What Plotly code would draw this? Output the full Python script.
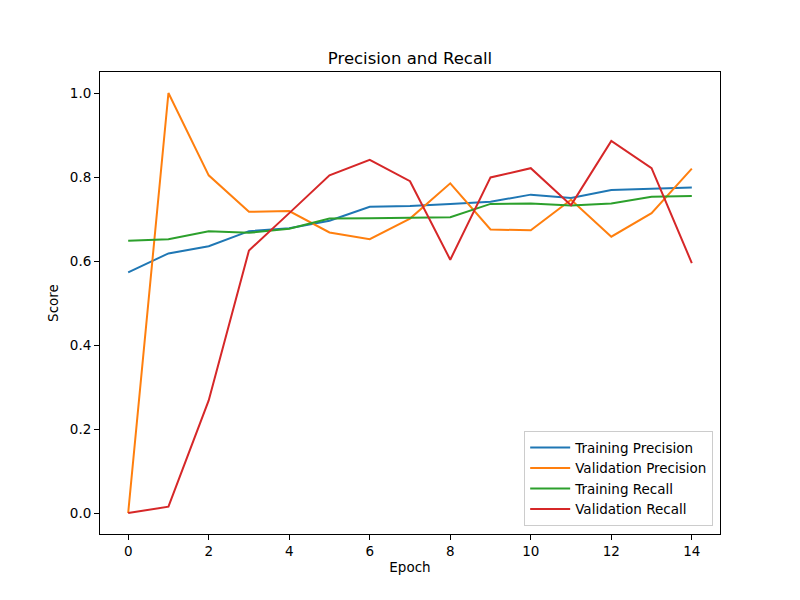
import plotly.graph_objects as go

epochs = list(range(15))
train_precision = [0.573, 0.618, 0.635, 0.671, 0.678, 0.696, 0.729, 0.731, 0.736, 0.741, 0.758, 0.750, 0.769, 0.772, 0.775]
val_precision = [0.0, 1.0, 0.804, 0.717, 0.719, 0.668, 0.652, 0.701, 0.785, 0.675, 0.673, 0.746, 0.658, 0.714, 0.820]
train_recall = [0.648, 0.652, 0.671, 0.667, 0.677, 0.701, 0.702, 0.703, 0.704, 0.736, 0.737, 0.732, 0.737, 0.753, 0.755]
val_recall = [0.0, 0.015, 0.268, 0.625, 0.714, 0.804, 0.841, 0.790, 0.603, 0.799, 0.821, 0.733, 0.886, 0.821, 0.595]

series = [
    ("Training Precision", train_precision, "#1f77b4"),
    ("Validation Precision", val_precision, "#ff7f0e"),
    ("Training Recall", train_recall, "#2ca02c"),
    ("Validation Recall", val_recall, "#d62728"),
]

fig = go.Figure()
for name, vals, color in series:
    fig.add_trace(go.Scatter(x=epochs, y=vals, mode="lines", name=name,
                             line=dict(color=color, width=2)))

axis_common = dict(showgrid=False, zeroline=False, showline=True, linecolor="black",
                   linewidth=1, mirror=True, ticks="outside", ticklen=5, tickwidth=1,
                   tickcolor="black", tickfont=dict(size=13.5, color="black"))

fig.update_layout(
    width=800, height=600,
    paper_bgcolor="white", plot_bgcolor="white",
    font=dict(family="DejaVu Sans", size=13.5, color="black"),
    margin=dict(l=92, r=88, t=64, b=74),
    title=dict(text="Precision and Recall", x=(410 - 8) / 800, xanchor="center",
               y=1 - 50 / 600, yanchor="middle", font=dict(size=16.5)),
    xaxis=dict(range=[-0.7, 14.7], tickvals=[0, 2, 4, 6, 8, 10, 12, 14],
               title=dict(text="Epoch", font=dict(size=13.5), standoff=4), **axis_common),
    yaxis=dict(range=[-0.05, 1.05], tickvals=[0, 0.2, 0.4, 0.6, 0.8, 1.0], tickformat=".1f",
               title=dict(text="Score", font=dict(size=13.5), standoff=8), **axis_common),
    legend=dict(x=0.989, y=0.017, xanchor="right", yanchor="bottom",
                bordercolor="#cccccc", borderwidth=1, bgcolor="rgba(255,255,255,0.8)",
                font=dict(size=13.5), tracegroupgap=0, itemwidth=40),
    showlegend=True,
)

fig.write_html("out.html")
